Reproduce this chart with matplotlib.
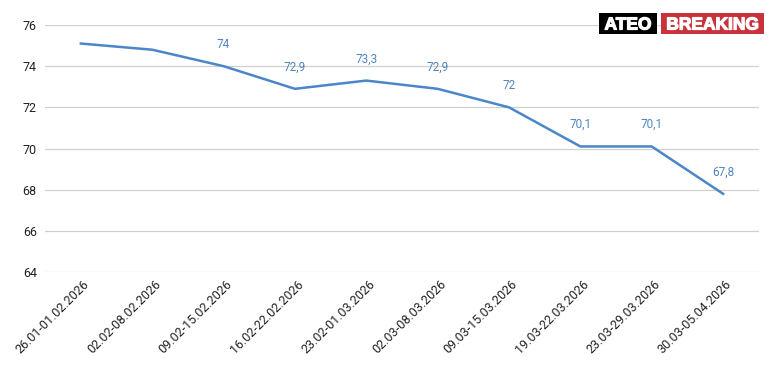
import matplotlib.pyplot as plt
import matplotlib.patheffects as pe
from matplotlib.patches import Rectangle
from matplotlib.font_manager import FontProperties
from matplotlib.transforms import ScaledTranslation

plt.rcParams['font.family'] = ['Roboto', 'DejaVu Sans']

weeks = ['26.01-01.02.2026', '02.02-08.02.2026', '09.02-15.02.2026', '16.02-22.02.2026',
         '23.02-01.03.2026', '02.03-08.03.2026', '09.03-15.03.2026', '19.03-22.03.2026',
         '23.03-29.03.2026', '30.03-05.04.2026']
values = [75.1, 74.8, 74.0, 72.9, 73.3, 72.9, 72.0, 70.1, 70.1, 67.8]
# first two points carry no label in the original
labels = [None, None, '74', '72,9', '73,3', '72,9', '72', '70,1', '70,1', '67,8']
yticks = [64, 66, 68, 70, 72, 74, 76]

line_color = '#4a86c8'
W, H = 779, 371

fig = plt.figure(figsize=(W / 100, H / 100), dpi=100)
ax = fig.add_axes([0.058, 0.2668, 0.916, 0.6658])

x = list(range(len(weeks)))
ax.plot(x, values, color=line_color, linewidth=1.8, solid_joinstyle='round')

for xi, v, lab in zip(x, values, labels):
    if lab:
        ax.annotate(lab, (xi, v), xytext=(0, 11), textcoords='offset points',
                    ha='center', va='bottom', fontsize=8.5, color='#4f86c0')

ax.set_xlim(-0.5, len(weeks) - 0.5)
ax.set_ylim(64, 76)
ax.set_yticks(yticks)
ax.set_yticklabels([str(t) for t in yticks], fontsize=9, color='#222222')
ax.set_xticks(x)
ax.set_xticklabels(weeks, rotation=45, ha='right', rotation_mode='anchor',
                   fontsize=9, color='#222222')
ax.tick_params(axis='both', length=0, pad=6)
ax.tick_params(axis='x', pad=4)
shift = ScaledTranslation(2 / 100, 0, fig.dpi_scale_trans)
for lbl in ax.get_xticklabels():
    lbl.set_transform(lbl.get_transform() + shift)

ax.grid(axis='y', color='#d0d0d0', linewidth=0.9)
ax.set_axisbelow(True)
for s in ax.spines.values():
    s.set_visible(False)

# logo boxes top right (pixel positions converted to figure fraction)
logo_font = FontProperties(family='Liberation Sans', weight='bold', size=12.5)

def box(x0, x1, y0, y1, color, text):
    fig.patches.append(Rectangle((x0 / W, 1 - y1 / H), (x1 - x0) / W, (y1 - y0) / H,
                                 transform=fig.transFigure, fc=color, ec='none', zorder=5))
    fig.text((x0 + x1) / 2 / W, 1 - (y0 + y1) / 2 / H, text, ha='center', va='center_baseline',
             fontproperties=logo_font, color='white', zorder=6,
             path_effects=[pe.withStroke(linewidth=0.9, foreground='white')])

box(599, 657, 13, 34, 'black', 'ATEO')
box(661, 764, 13, 34, '#c8323a', 'BREAKING')

fig.savefig('out.png', dpi=100)
